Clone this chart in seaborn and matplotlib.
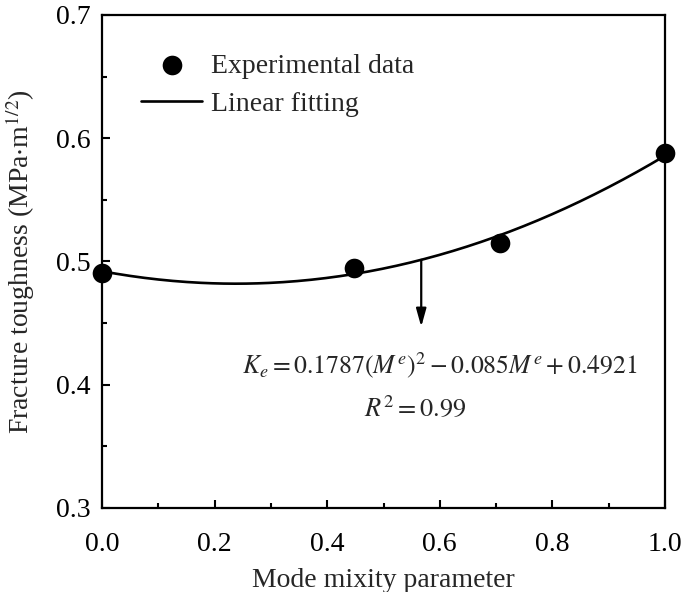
import numpy as np
import pandas as pd
import matplotlib
matplotlib.use("Agg")
import matplotlib.pyplot as plt
import seaborn as sns
from matplotlib.ticker import MultipleLocator

# Data
mode_mixity = [0.0, 0.447, 0.707, 1.0]
toughness = [0.491, 0.495, 0.515, 0.588]
fit_coeffs = [0.1787, -0.085, 0.4921]  # quadratic fit shown on chart

sns.set_theme(style="ticks")
plt.rcParams["font.family"] = ["Liberation Serif", "DejaVu Serif"]
plt.rcParams["mathtext.fontset"] = "stix"

fig = plt.figure(figsize=(6.86, 5.92), dpi=100)
ax = fig.add_axes([0.1487, 0.1419, 0.9694 - 0.1487, 0.9747 - 0.1419])

xs = np.linspace(0, 1, 200)
fit_df = pd.DataFrame({"x": xs, "y": np.polyval(fit_coeffs, xs)})
pts_df = pd.DataFrame({"x": mode_mixity, "y": toughness})

sns.lineplot(data=fit_df, x="x", y="y", ax=ax, color="black", linewidth=1.9,
             label="Linear fitting", zorder=2)
sns.scatterplot(data=pts_df, x="x", y="y", ax=ax, color="black", s=200,
                edgecolor="black", linewidth=0, label="Experimental data",
                zorder=3, clip_on=False)

ax.set_xlim(0, 1)
ax.set_ylim(0.3, 0.7)
ax.xaxis.set_major_locator(MultipleLocator(0.2))
ax.xaxis.set_minor_locator(MultipleLocator(0.1))
ax.yaxis.set_major_locator(MultipleLocator(0.1))
ax.yaxis.set_minor_locator(MultipleLocator(0.05))
ax.tick_params(which="both", direction="in", top=False, right=False,
               labelsize=20, width=1.5, colors="black")
ax.tick_params(which="major", length=6)
ax.tick_params(which="minor", length=3.5)
ax.tick_params(axis="x", which="major", pad=17)
ax.tick_params(axis="y", which="major", pad=8)
ax.set_xticklabels([f"{v:.1f}" for v in ax.get_xticks()])
ax.set_yticklabels([f"{v:.1f}" for v in ax.get_yticks()])
for sp in ax.spines.values():
    sp.set_linewidth(1.6)
    sp.set_color("black")

ax.set_xlabel("Mode mixity parameter", fontsize=20, labelpad=8.5)
ax.set_ylabel(r"Fracture toughness (MPa$\cdot$m$^{1/2}$)", fontsize=20, labelpad=14)

# legend: scatter first, line second
handles, labels = ax.get_legend_handles_labels()
order = [labels.index("Experimental data"), labels.index("Linear fitting")]
ax.legend([handles[i] for i in order], [labels[i] for i in order],
          loc="upper left", bbox_to_anchor=(0.05, 0.945), frameon=False,
          fontsize=20, handlelength=2.2, handletextpad=0.3, labelspacing=0.45,
          borderaxespad=0)

# arrow and equation
ax.annotate("", xy=(0.567, 0.447), xytext=(0.567, np.polyval(fit_coeffs, 0.567)),
            arrowprops=dict(arrowstyle="-|>,head_length=0.9,head_width=0.25",
                            color="black", lw=1.6, shrinkA=0, shrinkB=0))
ax.text(0.6, 0.416,
        r"$K_e = 0.1787(M^e)^2 - 0.085M^e + 0.4921$",
        ha="center", va="center", fontsize=18.5)
ax.text(0.557, 0.381, r"$R^2 = 0.99$", ha="center", va="center", fontsize=19)

fig.savefig("out.png", dpi=100)
